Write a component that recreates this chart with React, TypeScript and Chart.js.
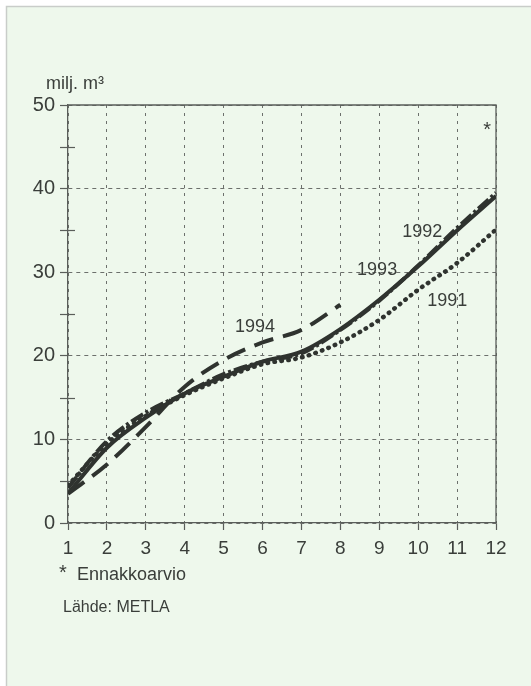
import React, { useEffect, useRef } from "react";
import { Chart, registerables } from "chart.js";

Chart.register(...registerables);

const months = [1, 2, 3, 4, 5, 6, 7, 8, 9, 10, 11, 12];
const yTickValues = [0, 10, 20, 30, 40, 50];
const minorTickValues = [5, 15, 25, 35, 45];
const s1991 = [4.5, 9.5, 12.8, 15.3, 17.3, 19.0, 19.8, 21.6, 24.3, 27.9, 31.1, 35.1];
const s1992 = [4.2, 9.8, 13.2, 15.5, 17.8, 19.3, 20.3, 23.1, 26.6, 30.8, 35.3, 39.5];
const s1993 = [3.5, 9.0, 12.6, 15.5, 17.5, 19.3, 20.5, 23.2, 26.7, 30.7, 35.0, 39.1];
const s1994 = [3.5, 7.0, 11.5, 16.3, 19.5, 21.6, 23.1, 26.1];
const seriesNames = ["1991", "1992", "1993", "1994"];
const unitLabel = "milj. m³";
const footnote = "Ennakkoarvio";
const sourceText = "Lähde: METLA";

const FONT = "'Liberation Sans', Arial, Helvetica, sans-serif";
const INK = "#2f332f";
const TEXT = "#3a3e3a";
const GRID = "#6c706c";
const PAGE = "#eef8ec";

const toXY = (vals: number[]) => vals.map((v, i) => ({ x: months[i], y: v }));

export default function App() {
  const ref = useRef<HTMLCanvasElement | null>(null);

  useEffect(() => {
    document.body.style.margin = "0";
    document.body.style.overflow = "hidden";
    const canvas = ref.current!;
    const decor = {
      id: "decor",
      beforeDraw(chart: any) {
        const ctx = chart.ctx;
        ctx.save();
        ctx.fillStyle = "#ffffff";
        ctx.fillRect(0, 0, chart.width, chart.height);
        ctx.fillStyle = PAGE;
        ctx.fillRect(6, 6, chart.width - 6, chart.height - 6);
        ctx.strokeStyle = "#c9cdc9";
        ctx.lineWidth = 1.5;
        ctx.beginPath();
        ctx.moveTo(6.5, chart.height);
        ctx.lineTo(6.5, 6.5);
        ctx.lineTo(chart.width, 6.5);
        ctx.stroke();
        ctx.restore();
      },
      beforeDatasetsDraw(chart: any) {
        const { ctx, chartArea, scales } = chart;
        const ys = scales.y;
        ctx.save();
        ctx.strokeStyle = "#5a5e5a";
        ctx.lineWidth = 1.3;
        ctx.beginPath();
        ctx.moveTo(chartArea.left, chartArea.top);
        ctx.lineTo(chartArea.right, chartArea.top);
        ctx.lineTo(chartArea.right, chartArea.bottom);
        ctx.stroke();
        // minor ticks across the y axis
        ctx.lineWidth = 1.2;
        minorTickValues.forEach((v) => {
          const py = Math.round(ys.getPixelForValue(v)) + 0.5;
          ctx.beginPath();
          ctx.moveTo(chartArea.left - 8, py);
          ctx.lineTo(chartArea.left + 7, py);
          ctx.stroke();
        });
        ctx.restore();
      },
      afterDraw(chart: any) {
        const { ctx, scales } = chart;
        const xs = scales.x;
        const ys = scales.y;
        ctx.save();
        ctx.fillStyle = TEXT;
        ctx.textBaseline = "alphabetic";
        ctx.textAlign = "left";
        ctx.font = `18px ${FONT}`;
        const labelAt: [string, number, number][] = [
          [seriesNames[3], 5.29, 22.8],
          [seriesNames[2], 8.43, 29.7],
          [seriesNames[1], 9.59, 34.2],
          [seriesNames[0], 10.23, 26.0],
        ];
        labelAt.forEach(([t, x, y]) => {
          ctx.fillText(t, xs.getPixelForValue(x), ys.getPixelForValue(y));
        });
        ctx.textAlign = "center";
        ctx.font = `20px ${FONT}`;
        ctx.fillText("*", xs.getPixelForValue(11.77), ys.getPixelForValue(46.3));
        ctx.textAlign = "left";
        ctx.font = `18px ${FONT}`;
        ctx.fillText(unitLabel, 46, 89);
        ctx.font = `20px ${FONT}`;
        ctx.fillText("*", 59, 579);
        ctx.font = `18px ${FONT}`;
        ctx.fillText(footnote, 77, 580);
        ctx.font = `16px ${FONT}`;
        ctx.fillText(sourceText, 63, 612);
        ctx.restore();
      },
    };

    const common = {
      pointRadius: 0,
      fill: false,
      cubicInterpolationMode: "monotone" as const,
      borderColor: INK,
    };

    const chart = new Chart(canvas, {
      type: "line",
      data: {
        datasets: [
          { ...common, label: seriesNames[0], data: toXY(s1991), borderWidth: 4.5, borderDash: [0.5, 6.5], borderCapStyle: "round" },
          { ...common, label: seriesNames[1], data: toXY(s1992), borderWidth: 4, borderDash: [14, 3, 3, 3] },
          { ...common, label: seriesNames[2], data: toXY(s1993), borderWidth: 4 },
          { ...common, label: seriesNames[3], data: toXY(s1994), borderWidth: 4, borderDash: [20, 10] },
        ],
      },
      options: {
        responsive: false,
        animation: false,
        devicePixelRatio: 1,
        layout: { padding: { left: 28, top: 105, right: 35, bottom: 118 } },
        plugins: { legend: { display: false }, tooltip: { enabled: false } },
        scales: {
          x: {
            type: "linear",
            min: 1,
            max: 12,
            ticks: {
              stepSize: 1,
              autoSkip: false,
              maxRotation: 0,
              color: TEXT,
              padding: 7,
              font: { family: FONT, size: 19 },
            },
            grid: { color: GRID, lineWidth: 1, tickLength: 7, tickColor: "#5a5e5a", tickWidth: 1.2, tickBorderDash: [] },
            border: { display: true, color: "#5a5e5a", width: 1.3, dash: [3, 5] },
            afterFit(s: any) { s.height = 45; },
          },
          y: {
            type: "linear",
            min: 0,
            max: 50,
            afterBuildTicks(s: any) { s.ticks = yTickValues.map((v) => ({ value: v })); },
            ticks: {
              color: TEXT,
              padding: 5,
              font: { family: FONT, size: 20 },
            },
            grid: { color: GRID, lineWidth: 1, tickLength: 8, tickColor: "#5a5e5a", tickWidth: 1.2, tickBorderDash: [] },
            border: { display: true, color: "#5a5e5a", width: 1.3, dash: [4, 4] },
            afterFit(s: any) { s.width = 40; },
          },
        },
      },
      plugins: [decor],
    } as any);
    return () => chart.destroy();
  }, []);

  return (
    <div style={{ width: 531, height: 686 }}>
      <canvas ref={ref} width={531} height={686} style={{ display: "block" }} />
    </div>
  );
}
